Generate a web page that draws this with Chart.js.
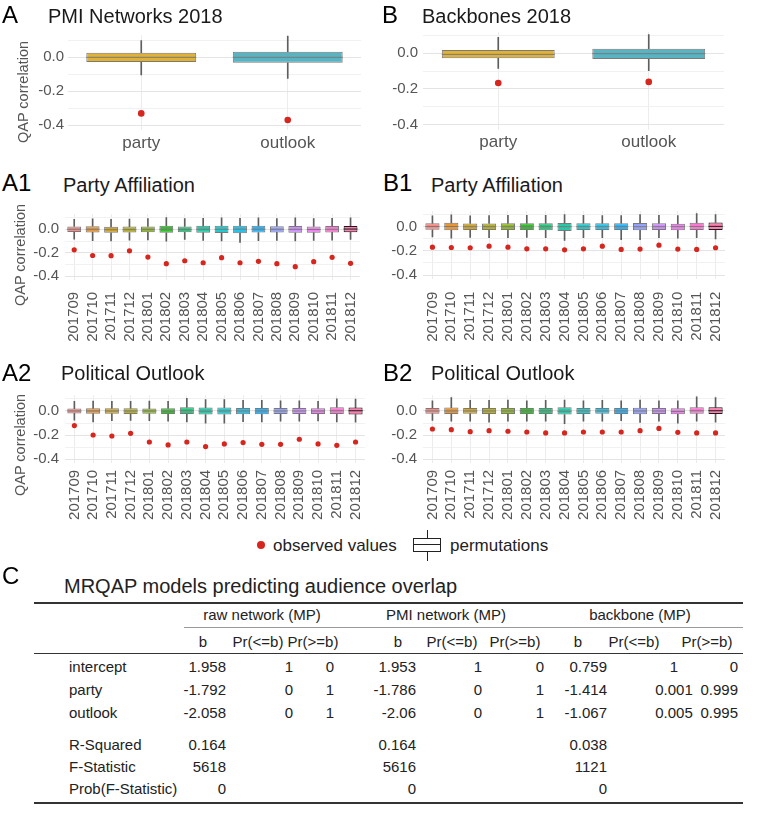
<!DOCTYPE html>
<html>
<head>
<meta charset="utf-8">
<script src="https://cdn.jsdelivr.net/npm/chart.js"></script>
<style>
  html, body { margin: 0; padding: 0; background: #fff; }
  #page { position: relative; width: 762px; height: 828px; overflow: hidden;
          font-family: "Liberation Sans", Arial, sans-serif; color: #1a1a1a; }
  canvas { position: absolute; }
  .txt { position: absolute; white-space: nowrap; line-height: 1; }
  .letter { font-size: 24px; color: #000; }
  .ptitle { font-size: 20px; color: #1a1a1a; }
  .ytitle { position: absolute; white-space: nowrap; line-height: 1; font-size: 14.5px; color: #555;
            transform: translate(-50%, -50%) rotate(-90deg); }
  .cell { position: absolute; height: 20px; line-height: 20px; font-size: 15px; white-space: nowrap; color: #222; }
  .rule { position: absolute; }
</style>
</head>
<body>
<div id="page">
  <canvas id="chartA" width="381" height="140" style="left:0px;top:20px"></canvas>
  <canvas id="chartB" width="381" height="142" style="left:381px;top:18px"></canvas>
  <canvas id="chartA1" width="381" height="152" style="left:0px;top:198px"></canvas>
  <canvas id="chartB1" width="381" height="154" style="left:381px;top:196px"></canvas>
  <canvas id="chartA2" width="381" height="150" style="left:0px;top:380px"></canvas>
  <canvas id="chartB2" width="381" height="150" style="left:381px;top:380px"></canvas>

  <div class="txt letter" style="left:2px;top:3px">A</div>
  <div class="txt ptitle" style="left:48px;top:6px">PMI Networks 2018</div>
  <div class="txt letter" style="left:382px;top:3px">B</div>
  <div class="txt ptitle" style="left:422px;top:6px">Backbones 2018</div>
  <div class="txt letter" style="left:2px;top:171px">A1</div>
  <div class="txt ptitle" style="left:63px;top:175px">Party Affiliation</div>
  <div class="txt letter" style="left:383px;top:171px">B1</div>
  <div class="txt ptitle" style="left:431px;top:175px">Party Affiliation</div>
  <div class="txt letter" style="left:2px;top:361px">A2</div>
  <div class="txt ptitle" style="left:61px;top:363px">Political Outlook</div>
  <div class="txt letter" style="left:383px;top:361px">B2</div>
  <div class="txt ptitle" style="left:431px;top:363px">Political Outlook</div>

  <div class="ytitle" style="left:23px;top:92px">QAP correlation</div>
  <div class="ytitle" style="left:20px;top:255px">QAP correlation</div>
  <div class="ytitle" style="left:20px;top:445px">QAP correlation</div>

  <!-- legend -->
  <div style="position:absolute;left:257px;top:541px;width:8px;height:8px;border-radius:50%;background:#d7261e"></div>
  <div class="txt" style="left:273px;top:537px;font-size:17px;color:#222">observed values</div>
  <div style="position:absolute;left:427px;top:530px;width:1px;height:31px;background:#222"></div>
  <div style="position:absolute;left:413px;top:538px;width:26px;height:12px;border:1.3px solid #222;background:#fff"></div>
  <div style="position:absolute;left:413px;top:544px;width:28px;height:1.3px;background:#222"></div>
  <div class="txt" style="left:450px;top:537px;font-size:17px;color:#222">permutations</div>

  <div class="txt letter" style="left:2px;top:564px">C</div>
  <div class="txt" style="left:64px;top:576px;font-size:20px;color:#222">MRQAP models predicting audience overlap</div>
</div>

<script>
// ---- data ----
const monthLabels = ['201709', '201710', '201711', '201712', '201801', '201802', '201803', '201804',
                     '201805', '201806', '201807', '201808', '201809', '201810', '201811', '201812'];
const monthColors = ['#F8766D', '#E68613', '#CD9600', '#ABA300', '#7CAE00', '#0CB702', '#00BE67', '#00C19A',
                     '#00BFC4', '#00B8E7', '#00A9FF', '#8494FF', '#C77CFF', '#ED68ED', '#FF61CC', '#FF68A1'];
const yTicks = [0.1, 0, -0.1, -0.2, -0.3, -0.4];
const yLabelled = [0, -0.2, -0.4];

// A: PMI networks 2018
const varCats = ['party', 'outlook'];
const varColors = ['#DDAE2C', '#4FB0BF'];
const pmiObserved = [-0.33, -0.369];
const pmiLow = [-0.104, -0.124];
const pmiQ1 = [-0.028, -0.032];
const pmiMed = [0.0, 0.0];
const pmiQ3 = [0.027, 0.033];
const pmiHigh = [0.098, 0.125];

// B: backbones 2018
const bbObserved = [-0.167, -0.161];
const bbLow = [-0.085, -0.098];
const bbQ1 = [-0.028, -0.032];
const bbMed = [-0.006, -0.002];
const bbQ3 = [0.018, 0.026];
const bbHigh = [0.09, 0.105];

// A1: PMI party by month
const pmiPartyObs = [-0.175, -0.223, -0.225, -0.183, -0.237, -0.293, -0.268, -0.285,
                     -0.242, -0.285, -0.273, -0.293, -0.318, -0.276, -0.239, -0.290];
const pmiPartyLow = [-0.085, -0.098, -0.1, -0.092, -0.09, -0.102, -0.086, -0.094,
                     -0.1, -0.112, -0.098, -0.094, -0.1, -0.094, -0.093, -0.086];
const pmiPartyQ1 = [-0.024, -0.027, -0.03, -0.028, -0.026, -0.03, -0.025, -0.029,
                    -0.032, -0.033, -0.028, -0.027, -0.03, -0.029, -0.027, -0.026];
const pmiPartyMed = [0.0, 0.0, -0.004, -0.003, -0.001, 0.0, -0.002, 0.0,
                     0.0, 0.001, 0.001, 0.0, 0.0, -0.002, 0.0, 0.002];
const pmiPartyQ3 = [0.024, 0.026, 0.022, 0.023, 0.024, 0.03, 0.024, 0.029,
                    0.031, 0.03, 0.029, 0.026, 0.028, 0.024, 0.027, 0.027];
const pmiPartyHigh = [0.085, 0.088, 0.085, 0.086, 0.09, 0.1, 0.092, 0.094,
                      0.097, 0.094, 0.097, 0.09, 0.097, 0.09, 0.094, 0.097];

// A2: PMI outlook by month
const pmiOutObs = [-0.121, -0.199, -0.207, -0.185, -0.257, -0.281, -0.257, -0.295,
                   -0.273, -0.262, -0.276, -0.276, -0.234, -0.273, -0.284, -0.257];
const pmiOutLow = [-0.075, -0.09, -0.08, -0.078, -0.08, -0.085, -0.09, -0.1,
                   -0.1, -0.088, -0.09, -0.085, -0.085, -0.082, -0.09, -0.092];
const pmiOutQ1 = [-0.02, -0.022, -0.022, -0.024, -0.022, -0.025, -0.025, -0.03,
                  -0.03, -0.026, -0.026, -0.025, -0.024, -0.024, -0.025, -0.03];
const pmiOutMed = [0, 0, 0, 0, 0, -0.003, 0.003, -0.002, 0, 0, 0, 0, 0, 0, 0.002, 0.002];
const pmiOutQ3 = [0.02, 0.022, 0.022, 0.022, 0.02, 0.022, 0.03, 0.028,
                  0.028, 0.025, 0.024, 0.024, 0.024, 0.022, 0.03, 0.028];
const pmiOutHigh = [0.08, 0.083, 0.08, 0.08, 0.082, 0.08, 0.105, 0.095,
                    0.095, 0.088, 0.088, 0.085, 0.085, 0.08, 0.1, 0.098];

// B1: backbone party by month
const bbPartyObs = [-0.169, -0.172, -0.174, -0.161, -0.169, -0.183, -0.183, -0.191,
                    -0.183, -0.161, -0.188, -0.185, -0.153, -0.185, -0.188, -0.174];
const bbPartyLow = [-0.085, -0.095, -0.088, -0.09, -0.09, -0.088, -0.09, -0.114,
                    -0.09, -0.09, -0.108, -0.108, -0.09, -0.095, -0.09, -0.1];
const bbPartyQ1 = [-0.025, -0.03, -0.027, -0.027, -0.028, -0.028, -0.03, -0.035,
                   -0.028, -0.028, -0.028, -0.03, -0.028, -0.03, -0.027, -0.028];
const bbPartyMed = [0.002, 0.002, 0, 0, 0, 0, 0, 0, 0, 0, 0, 0, 0, 0, 0.002, 0.003];
const bbPartyQ3 = [0.028, 0.032, 0.027, 0.027, 0.028, 0.028, 0.028, 0.03,
                   0.028, 0.028, 0.028, 0.03, 0.028, 0.025, 0.032, 0.035];
const bbPartyHigh = [0.09, 0.098, 0.09, 0.092, 0.095, 0.095, 0.095, 0.1,
                     0.095, 0.092, 0.092, 0.1, 0.095, 0.092, 0.108, 0.1];

// B2: backbone outlook by month
const bbOutObs = [-0.149, -0.155, -0.171, -0.163, -0.168, -0.174, -0.182, -0.182,
                  -0.174, -0.174, -0.174, -0.163, -0.144, -0.177, -0.182, -0.182];
const bbOutLow = [-0.078, -0.085, -0.085, -0.092, -0.085, -0.085, -0.085, -0.105,
                  -0.085, -0.085, -0.08, -0.095, -0.085, -0.1, -0.085, -0.092];
const bbOutQ1 = [-0.022, -0.025, -0.022, -0.024, -0.024, -0.024, -0.024, -0.03,
                 -0.024, -0.022, -0.024, -0.026, -0.024, -0.028, -0.022, -0.024];
const bbOutMed = [0, 0, 0, 0, 0, 0, 0, -0.002, 0, 0, 0, 0, 0, -0.004, 0.002, 0.002];
const bbOutQ3 = [0.024, 0.028, 0.024, 0.025, 0.025, 0.025, 0.025, 0.03,
                 0.025, 0.025, 0.025, 0.026, 0.024, 0.022, 0.03, 0.03];
const bbOutHigh = [0.085, 0.112, 0.088, 0.088, 0.09, 0.085, 0.088, 0.09,
                   0.085, 0.088, 0.085, 0.09, 0.085, 0.085, 0.118, 0.112];

// C: MRQAP table
const groupHeaders = ['raw network (MP)', 'PMI network (MP)', 'backbone (MP)'];
const subHeaders = ['b', 'Pr(<=b)', 'Pr(>=b)'];
const coefNames = ['intercept', 'party', 'outlook'];
const rawB = ['1.958', '-1.792', '-2.058'];
const rawLe = ['1', '0', '0'];
const rawGe = ['0', '1', '1'];
const pmiB = ['1.953', '-1.786', '-2.06'];
const pmiLe = ['1', '0', '0'];
const pmiGe = ['0', '1', '1'];
const bbB = ['0.759', '-1.414', '-1.067'];
const bbLe = ['1', '0.001', '0.005'];
const bbGe = ['0', '0.999', '0.995'];
const fitNames = ['R-Squared', 'F-Statistic', 'Prob(F-Statistic)'];
const rawFit = ['0.164', '5618', '0'];
const pmiFit = ['0.164', '5616', '0'];
const bbFit = ['0.038', '1121', '0'];

// ---- drawing ----
const FONT = '"Liberation Sans", Arial, sans-serif';
const RED = '#d7261e';
const TICK = '#555';

function rgba(hex, a) {
  const n = parseInt(hex.slice(1), 16);
  return 'rgba(' + (n >> 16) + ',' + ((n >> 8) & 255) + ',' + (n & 255) + ',' + a + ')';
}

function boxChart(id, s) {
  const n = s.labels.length;
  const borders = s.labels.map((l, i) => (s.darkLast && i === n - 1) ? '#1a1a1a' : '#7a7a7a');
  return new Chart(document.getElementById(id), {
    type: 'bar',
    data: {
      labels: s.labels,
      datasets: [
        { data: s.q3.map((v, i) => [v, s.high[i]]), backgroundColor: '#5e5e5e', barThickness: 1, grouped: false, order: 5 },
        { data: s.low.map((v, i) => [v, s.q1[i]]), backgroundColor: '#5e5e5e', barThickness: 1, grouped: false, order: 4 },
        { data: s.q1.map((v, i) => [v, s.q3[i]]), backgroundColor: s.colors.map(c => rgba(c, s.alpha)),
          borderColor: borders, borderWidth: 1, borderSkipped: false,
          barPercentage: 0.75, categoryPercentage: 1, grouped: false, order: 3 },
        { type: 'line', data: s.med, showLine: false, pointStyle: 'line',
          pointRadius: c => c.chart.scales.x.width / n * 0.375,
          pointBorderColor: borders, pointBorderWidth: 1, order: 2 },
        { type: 'line', data: s.obs, showLine: false, pointRadius: s.dot,
          pointBackgroundColor: RED, pointBorderWidth: 0, order: 1 }
      ]
    },
    options: {
      responsive: false,
      animation: false,
      layout: { padding: { top: s.padTop, right: s.padRight, bottom: 0, left: 0 } },
      plugins: { legend: { display: false }, tooltip: { enabled: false } },
      scales: {
        x: {
          grid: { offset: false, color: '#ececec', drawTicks: false },
          border: { display: false },
          ticks: { color: TICK, font: { family: FONT, size: s.xFont }, padding: s.xPad,
                   autoSkip: false, minRotation: s.rot, maxRotation: s.rot },
          afterFit: sc => { sc.height = s.xHeight; }
        },
        y: {
          min: s.yMin, max: s.yMax,
          afterBuildTicks: sc => { sc.ticks = yTicks.map(v => ({ value: v })); },
          grid: { color: c => yLabelled.includes(c.tick.value) ? '#e4e4e4' : '#f1f1f1', drawTicks: false },
          border: { display: false },
          ticks: { color: TICK, font: { family: FONT, size: 15 }, padding: s.yPad, autoSkip: false,
                   callback: v => yLabelled.includes(v) ? v.toFixed(1) : '' },
          afterFit: sc => { sc.width = s.yWidth; }
        }
      }
    }
  });
}

boxChart('chartA', { labels: varCats, colors: varColors, alpha: 0.95, darkLast: false,
  obs: pmiObserved, low: pmiLow, q1: pmiQ1, med: pmiMed, q3: pmiQ3, high: pmiHigh,
  yMin: -0.43, yMax: 0.13, padTop: 15.2, padRight: 20, yWidth: 68, yPad: 4,
  xHeight: 29.6, xPad: 3, xFont: 17, rot: 0, dot: 3.3 });

boxChart('chartB', { labels: varCats, colors: varColors, alpha: 0.95, darkLast: false,
  obs: bbObserved, low: bbLow, q1: bbQ1, med: bbMed, q3: bbQ3, high: bbHigh,
  yMin: -0.43, yMax: 0.12, padTop: 12.7, padRight: 38, yWidth: 42, yPad: 5,
  xHeight: 30.3, xPad: 2, xFont: 17, rot: 0, dot: 3.3 });

boxChart('chartA1', { labels: monthLabels, colors: monthColors, alpha: 0.85, darkLast: true,
  obs: pmiPartyObs, low: pmiPartyLow, q1: pmiPartyQ1, med: pmiPartyMed, q3: pmiPartyQ3, high: pmiPartyHigh,
  yMin: -0.43, yMax: 0.13, padTop: 16, padRight: 14.5, yWidth: 65, yPad: 6,
  xHeight: 70.2, xPad: 12, xFont: 15, rot: 90, dot: 2.6 });

boxChart('chartB1', { labels: monthLabels, colors: monthColors, alpha: 0.85, darkLast: true,
  obs: bbPartyObs, low: bbPartyLow, q1: bbPartyQ1, med: bbPartyMed, q3: bbPartyQ3, high: bbPartyHigh,
  yMin: -0.43, yMax: 0.13, padTop: 14.1, padRight: 37, yWidth: 42, yPad: 6,
  xHeight: 71.3, xPad: 13, xFont: 15, rot: 90, dot: 2.6 });

boxChart('chartA2', { labels: monthLabels, colors: monthColors, alpha: 0.85, darkLast: true,
  obs: pmiOutObs, low: pmiOutLow, q1: pmiOutQ1, med: pmiOutMed, q3: pmiOutQ3, high: pmiOutHigh,
  yMin: -0.43, yMax: 0.13, padTop: 15.3, padRight: 14.5, yWidth: 65, yPad: 6,
  xHeight: 67.1, xPad: 7, xFont: 15, rot: 90, dot: 2.6 });

boxChart('chartB2', { labels: monthLabels, colors: monthColors, alpha: 0.85, darkLast: true,
  obs: bbOutObs, low: bbOutLow, q1: bbOutQ1, med: bbOutMed, q3: bbOutQ3, high: bbOutHigh,
  yMin: -0.43, yMax: 0.13, padTop: 15.3, padRight: 37, yWidth: 42, yPad: 6,
  xHeight: 67.1, xPad: 7, xFont: 15, rot: 90, dot: 2.6 });

// table
const page = document.getElementById('page');
function put(text, x, y, align) {
  const d = document.createElement('div');
  d.className = 'cell';
  d.textContent = text;
  d.style.top = (y - 10) + 'px';
  if (align === 'left') {
    d.style.left = x + 'px';
  } else if (align === 'right') {
    d.style.left = (x - 150) + 'px'; d.style.width = '150px'; d.style.textAlign = 'right';
  } else {
    d.style.left = (x - 75) + 'px'; d.style.width = '150px'; d.style.textAlign = 'center';
  }
  page.appendChild(d);
}
function rule(x1, x2, y, w, color) {
  const d = document.createElement('div');
  d.className = 'rule';
  d.style.left = x1 + 'px'; d.style.width = (x2 - x1) + 'px';
  d.style.top = (y - w / 2) + 'px'; d.style.height = w + 'px';
  d.style.background = color;
  page.appendChild(d);
}

const colX = [[226, 'right'], [289, 'center'], [334, 'right'],
              [416, 'right'], [478, 'center'], [544, 'right'],
              [607, 'right'], [674, 'center'], [738, 'right']];
const groupX = [262, 446, 640];
const subX = [203, 258, 313, 398, 452, 515, 578, 634, 707];
const rowY = [667, 690, 713];
const fitY = [745, 767, 789];

rule(34, 743, 603, 1.5, '#333');
groupHeaders.forEach((g, i) => put(g, groupX[i], 615, 'center'));
rule(184, 743, 627.5, 1.5, '#9a9a9a');
subX.forEach((x, i) => put(subHeaders[i % 3], x, 642, 'center'));
rule(34, 743, 653, 1, '#333');

const coefCols = [rawB, rawLe, rawGe, pmiB, pmiLe, pmiGe, bbB, bbLe, bbGe];
coefNames.forEach((name, r) => {
  put(name, 69, rowY[r], 'left');
  coefCols.forEach((col, c) => put(col[r], colX[c][0], rowY[r], colX[c][1]));
});
const fitCols = [[rawFit, 0], [pmiFit, 3], [bbFit, 6]];
fitNames.forEach((name, r) => {
  put(name, 69, fitY[r], 'left');
  fitCols.forEach(([col, c]) => put(col[r], colX[c][0], fitY[r], 'right'));
});
rule(34, 743, 803, 1.5, '#333');
</script>
</body>
</html>
